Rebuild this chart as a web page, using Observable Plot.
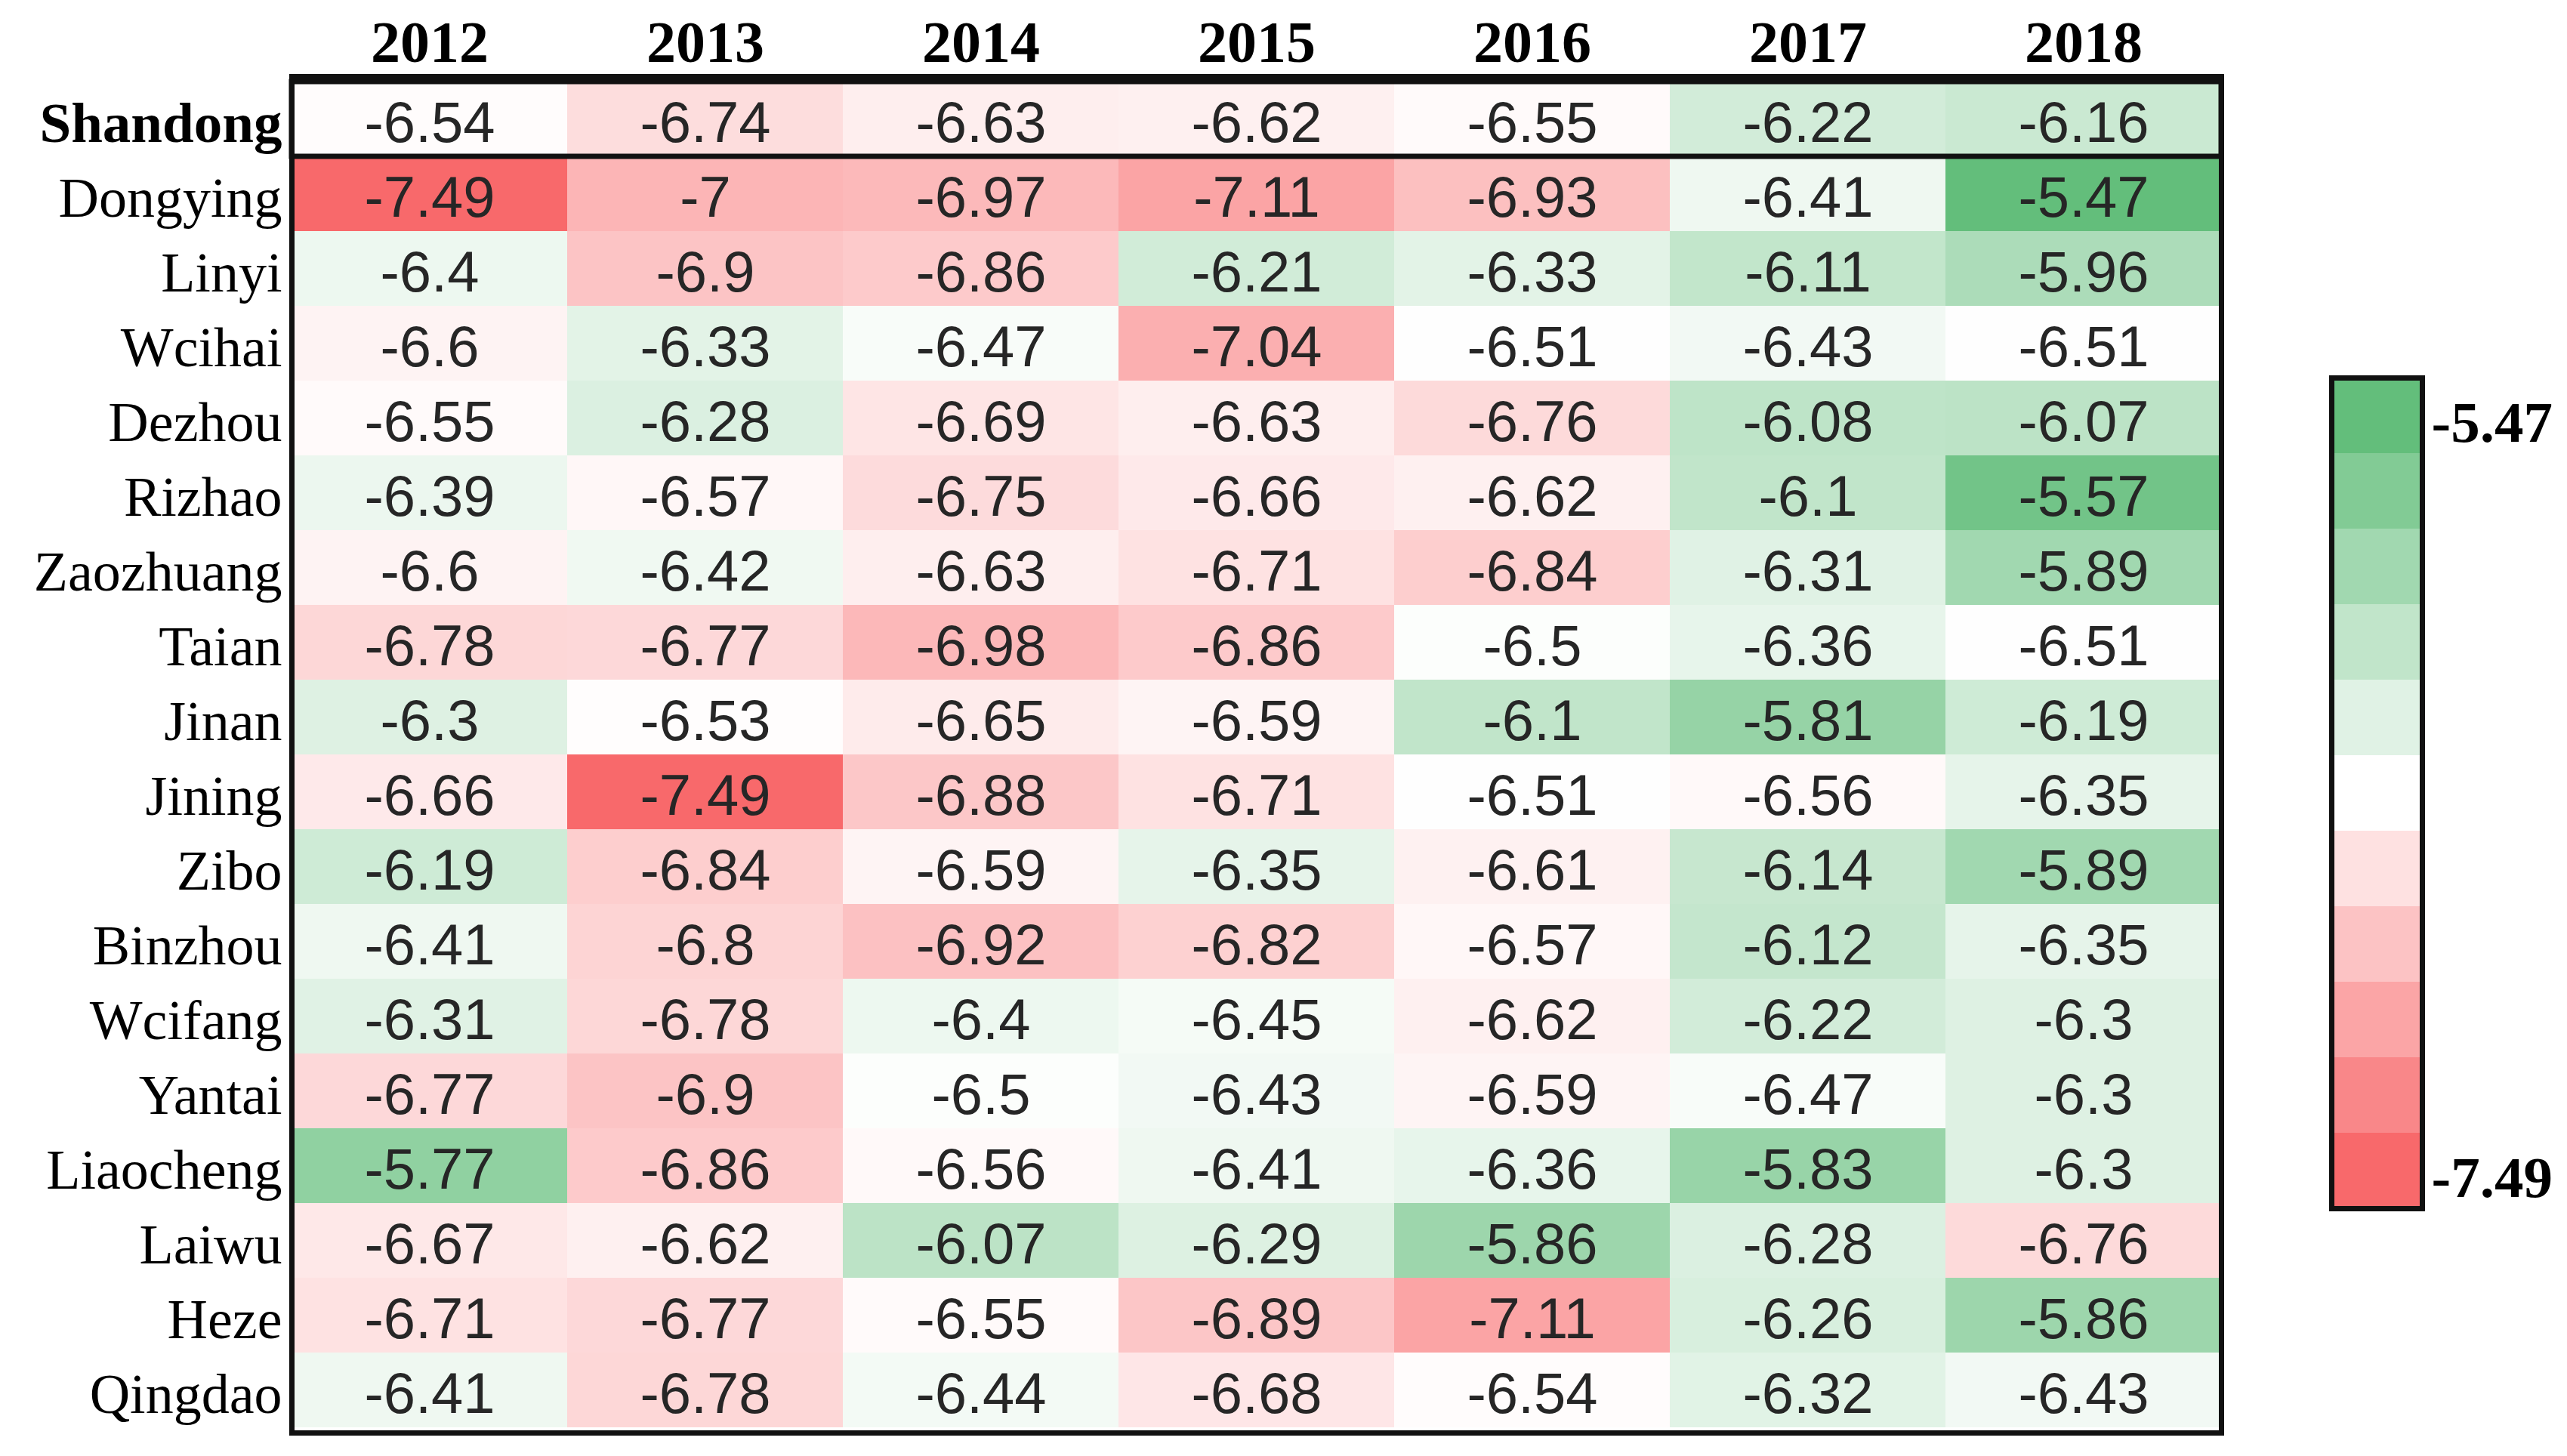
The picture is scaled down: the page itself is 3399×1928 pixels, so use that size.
<!DOCTYPE html>
<html>
<head>
<meta charset="utf-8">
<script src="https://cdn.jsdelivr.net/npm/d3@7"></script>
<script src="https://cdn.jsdelivr.net/npm/@observablehq/plot@0.6"></script>
<style>
  html, body { margin: 0; padding: 0; background: #fff; }
  #wrap { position: relative; width: 3399px; height: 1928px; overflow: hidden; }
  #legend { position: absolute; left: 3080px; top: 493px; }
  #main { position: absolute; left: 0; top: 0; }
</style>
</head>
<body>
<div id="wrap"><div id="main"></div><div id="legend"></div></div>
<script>
const years = ["2012", "2013", "2014", "2015", "2016", "2017", "2018"];
const regions = ["Shandong", "Dongying", "Linyi", "Wcihai", "Dezhou", "Rizhao", "Zaozhuang", "Taian", "Jinan", "Jining", "Zibo", "Binzhou", "Wcifang", "Yantai", "Liaocheng", "Laiwu", "Heze", "Qingdao"];

const Shandong  = [-6.54, -6.74, -6.63, -6.62, -6.55, -6.22, -6.16];
const Dongying  = [-7.49, -7, -6.97, -7.11, -6.93, -6.41, -5.47];
const Linyi     = [-6.4, -6.9, -6.86, -6.21, -6.33, -6.11, -5.96];
const Weihai    = [-6.6, -6.33, -6.47, -7.04, -6.51, -6.43, -6.51];
const Dezhou    = [-6.55, -6.28, -6.69, -6.63, -6.76, -6.08, -6.07];
const Rizhao    = [-6.39, -6.57, -6.75, -6.66, -6.62, -6.1, -5.57];
const Zaozhuang = [-6.6, -6.42, -6.63, -6.71, -6.84, -6.31, -5.89];
const Taian     = [-6.78, -6.77, -6.98, -6.86, -6.5, -6.36, -6.51];
const Jinan     = [-6.3, -6.53, -6.65, -6.59, -6.1, -5.81, -6.19];
const Jining    = [-6.66, -7.49, -6.88, -6.71, -6.51, -6.56, -6.35];
const Zibo      = [-6.19, -6.84, -6.59, -6.35, -6.61, -6.14, -5.89];
const Binzhou   = [-6.41, -6.8, -6.92, -6.82, -6.57, -6.12, -6.35];
const Weifang   = [-6.31, -6.78, -6.4, -6.45, -6.62, -6.22, -6.3];
const Yantai    = [-6.77, -6.9, -6.5, -6.43, -6.59, -6.47, -6.3];
const Liaocheng = [-5.77, -6.86, -6.56, -6.41, -6.36, -5.83, -6.3];
const Laiwu     = [-6.67, -6.62, -6.07, -6.29, -5.86, -6.28, -6.76];
const Heze      = [-6.71, -6.77, -6.55, -6.89, -7.11, -6.26, -5.86];
const Qingdao   = [-6.41, -6.78, -6.44, -6.68, -6.54, -6.32, -6.43];

const rows = [Shandong, Dongying, Linyi, Weihai, Dezhou, Rizhao, Zaozhuang, Taian, Jinan, Jining, Zibo, Binzhou, Weifang, Yantai, Liaocheng, Laiwu, Heze, Qingdao];

const data = [];
regions.forEach((r, i) => years.forEach((y, j) => data.push({region: r, year: y, value: rows[i][j]})));

const vmin = d3.min(data, d => d.value);
const vmax = d3.max(data, d => d.value);
const vmid = d3.median(data, d => d.value);
const colorOpts = {type: "linear", domain: [vmin, vmid, vmax], range: ["#F8696B", "#FFFFFF", "#63BE7B"], interpolate: "rgb"};

const serif = "Liberation Serif, Times New Roman, serif";
const sans = "Liberation Sans, Arial, sans-serif";

const main = Plot.plot({
  width: 3399,
  height: 1928,
  marginLeft: 386,
  marginRight: 458,
  marginTop: 101,
  marginBottom: 31,
  x: {domain: years, padding: 0, axis: null},
  y: {domain: regions, padding: 0, axis: null},
  color: colorOpts,
  marks: [
    Plot.cell(data, {x: "year", y: "region", fill: "value", inset: 0}),
    Plot.text(data, {x: "year", y: "region", text: d => String(d.value), fill: "#262626", fontSize: 76, fontFamily: sans, dy: 6}),
    Plot.cell(["Shandong"], {y: d => d, fill: "none", stroke: "#111", strokeWidth: 7, inset: 0}),
    Plot.frame({stroke: "#111", strokeWidth: 7}),
    Plot.axisX({anchor: "top", tickSize: 0, tickPadding: 0, dy: -20, fontSize: 78, fontWeight: "bold", fontFamily: serif, fill: "#000", label: null}),
    Plot.axisY({anchor: "left", ticks: regions.slice(1), tickSize: 0, tickPadding: 13, dy: 6, fontSize: 74, fontFamily: serif, fill: "#000", label: null}),
    Plot.axisY({anchor: "left", ticks: ["Shandong"], tickSize: 0, tickPadding: 13, dy: 6, fontSize: 75, fontWeight: "bold", fontFamily: serif, fill: "#000", label: null})
  ]
});
main.style.background = "#fff";
document.getElementById("main").appendChild(main);

// Legend: 11 discrete steps from max (top) to min (bottom)
const legendBins = d3.range(11).map(i => {
  const t = 1 - i / 5;
  const v = t >= 0 ? vmid + t * (vmax - vmid) : vmid + t * (vmid - vmin);
  return {bin: i, value: v};
});
const legendLabels = [d3.format(".2f")(vmax).replace("−", "-"), d3.format(".2f")(vmin).replace("−", "-")];

const legend = Plot.plot({
  width: 319,
  height: 1115,
  marginLeft: 7,
  marginRight: 192,
  marginTop: 7,
  marginBottom: 8,
  x: {axis: null},
  y: {domain: legendBins.map(d => d.bin), padding: 0, axis: null},
  color: colorOpts,
  marks: [
    Plot.cell(legendBins, {y: "bin", fill: "value", inset: 0}),
    Plot.frame({stroke: "#111", strokeWidth: 7}),
    Plot.axisY({anchor: "right", ticks: [0, 10], tickFormat: b => b === 0 ? legendLabels[0] : legendLabels[1], tickSize: 0, tickPadding: 12, dy: 10, fontSize: 77, fontWeight: "bold", fontFamily: serif, fill: "#000", label: null})
  ]
});
legend.style.background = "transparent";
document.getElementById("legend").appendChild(legend);
</script>
</body>
</html>
